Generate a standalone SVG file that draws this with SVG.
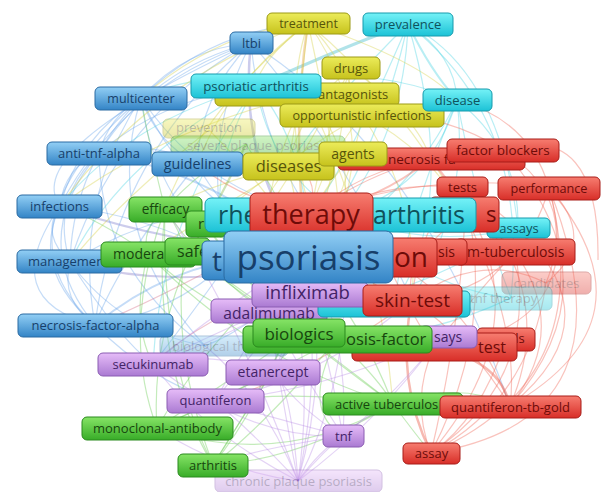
<svg xmlns="http://www.w3.org/2000/svg" width="601" height="492" viewBox="0 0 601 492">
<defs>
<linearGradient id="gB" x1="0" y1="0" x2="0" y2="1"><stop offset="0" stop-color="#92cff5"/><stop offset="1" stop-color="#3384c6"/></linearGradient>
<linearGradient id="gC" x1="0" y1="0" x2="0" y2="1"><stop offset="0" stop-color="#74f2f7"/><stop offset="1" stop-color="#1cc2d6"/></linearGradient>
<linearGradient id="gY" x1="0" y1="0" x2="0" y2="1"><stop offset="0" stop-color="#ecec5a"/><stop offset="1" stop-color="#c6c21c"/></linearGradient>
<linearGradient id="gR" x1="0" y1="0" x2="0" y2="1"><stop offset="0" stop-color="#f77d70"/><stop offset="1" stop-color="#d82e28"/></linearGradient>
<linearGradient id="gG" x1="0" y1="0" x2="0" y2="1"><stop offset="0" stop-color="#86e466"/><stop offset="1" stop-color="#38ac28"/></linearGradient>
<linearGradient id="gP" x1="0" y1="0" x2="0" y2="1"><stop offset="0" stop-color="#e6bcf8"/><stop offset="1" stop-color="#aa7ad2"/></linearGradient>
</defs>
<style>
text{font-family:"Open Sans","Noto Sans","DejaVu Sans",sans-serif;text-anchor:middle}
.s{text-anchor:start}
rect{stroke-width:1}
.b rect{fill:url(#gB);stroke:#2a6aa2}.b text{fill:#173f6a}
.c rect{fill:url(#gC);stroke:#169aac}.c text{fill:#0f525c}
.y rect{fill:url(#gY);stroke:#9c9a16}.y text{fill:#57550a}
.r rect{fill:url(#gR);stroke:#a81d18}.r text{fill:#6e0b08}
.g rect{fill:url(#gG);stroke:#2a8a1e}.g text{fill:#17460e}
.p rect{fill:url(#gP);stroke:#8a5cb2}.p text{fill:#432366}
.f{opacity:0.38}
#edges path{fill:none;stroke-width:1.2;stroke-opacity:0.4}
.eb{stroke:#6fa8ea}.ec{stroke:#4fd4e4}.ey{stroke:#d8d24c}.er{stroke:#f06a5a}.eg{stroke:#6ccc56}.ep{stroke:#bc90e6}
</style>
<rect width="601" height="492" fill="#ffffff"/>
<g id="edges">
<g class="eb">
<path d="M141 98 Q193 211 308 257"/><path d="M141 98 Q185 48 251 43"/><path d="M141 98 Q156 142 197 164"/><path d="M141 98 Q109 117 99 153"/><path d="M141 98 Q79 136 60 206"/><path d="M141 98 Q73 166 70 262"/><path d="M141 98 Q73 202 95 325"/><path d="M141 98 Q203 190 311 214"/><path d="M141 98 Q153 197 230 260"/>
<path d="M251 43 Q237 161 308 257" style="stroke:#7f80d0;stroke-width:2.5"/><path d="M251 43 Q197 147 230 260"/><path d="M251 43 Q123 86 60 206"/><path d="M251 43 Q153 68 99 153"/><path d="M251 43 Q117 116 70 262"/><path d="M251 43 Q117 153 95 325"/>
<path d="M99 153 Q219 174 308 257" style="stroke-width:2"/><path d="M60 206 Q150 240 308 257" style="stroke:#7f80d0;stroke-width:2"/><path d="M70 262 Q190 295 308 257" style="stroke:#8a7cc8;stroke-width:2"/><path d="M95 325 Q188 248 308 257" style="stroke-width:1.8"/><path d="M197 164 Q234 233 308 257"/><path d="M197 164 Q150 139 99 153"/><path d="M60 206 Q64 168 99 153"/><path d="M60 206 Q40 234 70 262"/><path d="M70 262 Q60 300 95 325"/><path d="M60 206 Q30 270 95 325"/><path d="M141 98 Q100 230 205 346"/><path d="M99 153 Q100 270 205 346"/><path d="M251 43 Q200 95 197 164"/><path d="M230 260 Q150 215 60 206"/><path d="M230 260 Q170 315 95 325"/><path d="M70 262 Q190 190 311 214"/><path d="M99 153 Q25 240 95 325"/><path d="M99 153 Q50 200 70 262"/><path d="M205 346 Q270 320 308 257"/><path d="M205 346 Q120 330 70 262"/><path d="M141 98 Q-10 230 95 325"/><path d="M60 206 Q-5 300 95 325"/><path d="M251 43 Q20 150 60 206"/><path d="M95 325 Q150 380 215 401"/><path d="M70 262 Q120 340 153 364"/><path d="M251 43 Q330 130 412 300"/><path d="M251 43 Q420 150 510 406"/><path d="M251 43 Q260 140 311 214"/><path d="M141 98 Q210 30 308 23"/><path d="M197 164 Q120 260 95 325"/><path d="M230 260 Q180 330 153 364"/><path d="M99 153 Q160 100 256 86"/>
</g>
<g class="ec">
<path d="M408 24 Q455 55 457 100"/><path d="M408 24 Q405 130 340 215"/><path d="M408 24 Q380 150 308 257"/><path d="M408 24 Q360 40 256 86" style="stroke:#3cb8c8;stroke-width:3"/><path d="M408 24 Q500 70 518 228"/><path d="M408 24 Q530 120 511 298"/><path d="M457 100 Q430 190 340 215"/><path d="M457 100 Q410 200 308 257"/><path d="M457 100 Q520 150 518 228"/><path d="M457 100 Q480 220 511 298"/><path d="M256 86 Q270 170 340 215"/><path d="M256 86 Q310 150 308 257"/><path d="M256 86 Q360 60 457 100"/><path d="M256 86 Q200 70 141 98"/><path d="M256 86 Q130 120 60 206"/><path d="M256 86 Q120 160 70 262"/><path d="M340 215 Q430 250 518 228"/><path d="M340 215 Q430 290 511 298"/><path d="M457 100 Q470 200 412 300"/><path d="M518 228 Q400 310 269 311"/><path d="M511 298 Q400 350 299 333"/><path d="M408 24 Q330 100 288 166"/><path d="M256 86 Q160 220 153 364"/><path d="M408 24 Q460 200 395 303"/><path d="M408 24 Q430 70 457 100" style="stroke-width:2"/><path d="M457 100 Q400 240 395 303"/><path d="M408 24 Q350 160 311 214"/><path d="M256 86 Q200 180 230 260"/>
</g>
<g class="ey">
<path d="M308 23 Q290 140 308 257" style="stroke:#e0a040;stroke-width:2.5"/><path d="M308 23 Q280 110 311 214"/><path d="M308 23 Q300 100 288 166"/><path d="M308 23 Q350 80 353 154"/><path d="M308 23 Q345 60 362 115"/><path d="M308 23 Q230 80 197 164"/><path d="M308 23 Q150 80 60 206"/><path d="M308 23 Q330 120 340 215"/><path d="M308 23 Q200 110 165 209"/><path d="M351 68 Q300 110 288 166"/><path d="M351 68 Q340 160 308 257"/><path d="M351 68 Q320 150 311 214"/><path d="M307 94 Q360 160 340 215"/><path d="M307 94 Q160 130 60 206"/><path d="M362 115 Q320 170 311 214"/><path d="M362 115 Q350 190 308 257"/><path d="M362 115 Q430 150 465 214"/><path d="M288 166 Q300 220 308 257"/><path d="M288 166 Q250 220 230 260"/><path d="M353 154 Q330 180 311 214"/><path d="M353 154 Q350 190 340 215"/><path d="M209 130 Q270 190 308 257"/><path d="M209 130 Q120 200 70 262"/><path d="M288 166 Q220 180 165 209"/><path d="M288 166 Q200 220 148 254"/><path d="M308 23 Q220 30 141 98"/><path d="M307 94 Q380 250 393 404"/><path d="M362 115 Q420 200 412 300"/><path d="M308 23 Q420 60 457 100"/><path d="M308 23 Q400 100 465 214"/><path d="M351 68 Q420 120 430 159"/><path d="M307 94 Q250 200 269 311"/><path d="M308 23 Q260 60 256 86"/><path d="M351 68 Q280 200 230 260"/><path d="M362 115 Q250 180 185 251"/>
</g>
<g class="er">
<path d="M503 150 Q620 280 510 406"/><path d="M549 188 Q600 380 431 453"/><path d="M549 188 Q520 290 412 300"/><path d="M462 187 Q500 320 431 453"/><path d="M465 214 Q460 330 431 453"/><path d="M412 300 Q395 380 431 453" style="stroke:#e8503c;stroke-width:2.5"/><path d="M434 347 Q410 400 431 453"/><path d="M510 406 Q500 360 434 347" style="stroke:#e8503c;stroke-width:2.5"/><path d="M510 406 Q470 340 412 300"/><path d="M384 257 Q470 300 510 406"/><path d="M311 214 Q400 150 503 150"/><path d="M311 214 Q360 170 430 159"/><path d="M311 214 Q390 180 462 187"/><path d="M311 214 Q430 170 549 188"/><path d="M311 214 Q360 290 412 300"/><path d="M311 214 Q420 270 515 252"/><path d="M503 150 Q580 200 546 283"/><path d="M549 188 Q600 240 546 283"/><path d="M515 252 Q540 380 431 453"/><path d="M515 252 Q570 330 510 406"/><path d="M462 187 Q560 290 510 406"/><path d="M546 283 Q530 400 431 453"/><path d="M506 340 Q480 420 431 453"/><path d="M311 214 Q180 290 95 325" style="stroke:#d8708a"/><path d="M311 214 Q240 200 197 164"/><path d="M462 187 Q640 300 510 406"/><path d="M549 188 Q590 330 434 347"/><path d="M430 159 Q560 300 431 453"/><path d="M503 150 Q440 110 362 115"/><path d="M549 188 Q530 120 457 100"/><path d="M412 300 Q300 380 215 401"/><path d="M311 214 Q200 270 148 254"/><path d="M384 257 Q300 250 230 260"/><path d="M430 159 Q500 250 515 252"/><path d="M465 214 Q520 330 510 406"/><path d="M412 300 Q480 250 546 283"/><path d="M384 257 Q220 300 153 364" style="stroke:#d8708a"/><path d="M549 188 Q660 320 510 406"/><path d="M549 188 Q640 420 431 453"/><path d="M503 150 Q600 120 598 260"/><path d="M430 159 Q380 200 311 214" style="stroke-width:2"/><path d="M311 214 Q320 170 288 166"/><path d="M465 214 Q400 260 412 300"/><path d="M434 347 Q470 300 515 252"/><path d="M412 300 Q420 220 462 187"/><path d="M384 257 Q420 330 434 347"/>
</g>
<g class="eg">
<path d="M165 209 Q230 250 308 257"/><path d="M165 209 Q140 230 148 254"/><path d="M165 209 Q180 230 185 251"/><path d="M165 209 Q220 290 299 333"/><path d="M165 209 Q160 360 213 465"/><path d="M165 209 Q120 330 157 428"/><path d="M148 254 Q220 320 299 333"/><path d="M148 254 Q130 320 153 364"/><path d="M185 251 Q250 300 299 333"/><path d="M185 251 Q300 330 393 404"/><path d="M299 333 Q360 380 393 404"/><path d="M299 333 Q240 420 213 465"/><path d="M299 333 Q200 400 157 428"/><path d="M337 339 Q380 380 393 404"/><path d="M337 339 Q270 420 213 465"/><path d="M337 339 Q220 400 157 428"/><path d="M157 428 Q220 320 308 257"/><path d="M157 428 Q220 400 273 372"/><path d="M213 465 Q280 380 308 257"/><path d="M213 465 Q300 330 340 215"/><path d="M393 404 Q360 320 308 257"/><path d="M393 404 Q300 390 215 401"/><path d="M246 144 Q280 200 308 257"/><path d="M246 144 Q200 170 165 209"/><path d="M165 209 Q150 150 141 98"/><path d="M148 254 Q100 220 60 206"/><path d="M205 224 Q260 300 299 333" style="stroke-width:2"/><path d="M205 224 Q150 330 157 428"/><path d="M393 404 Q300 460 213 465"/><path d="M157 428 Q280 470 393 404"/><path d="M185 251 Q170 350 213 465"/><path d="M337 339 Q300 410 343 436"/><path d="M393 404 Q460 380 510 406"/><path d="M393 404 Q420 440 431 453"/><path d="M205 224 Q230 180 246 144" style="stroke-width:2.2;stroke:#8ab84a"/><path d="M148 254 Q250 360 393 404"/><path d="M213 465 Q150 360 165 209"/>
</g>
<g class="ep">
<path d="M298 481 Q290 380 273 372"/><path d="M298 481 Q320 380 308 294"/><path d="M298 481 Q280 390 269 311"/><path d="M298 481 Q330 370 308 257"/><path d="M298 481 Q200 430 153 364"/><path d="M298 481 Q250 430 215 401"/><path d="M298 481 Q320 450 343 436"/><path d="M298 481 Q310 400 299 333"/><path d="M298 481 Q220 470 157 428"/><path d="M298 481 Q230 300 165 209"/><path d="M298 481 Q380 420 440 337"/><path d="M343 436 Q330 360 308 294"/><path d="M343 436 Q300 370 269 311"/><path d="M343 436 Q300 410 273 372"/><path d="M343 436 Q350 340 308 257"/><path d="M343 436 Q400 390 440 337"/><path d="M153 364 Q230 300 308 257"/><path d="M153 364 Q220 330 308 294"/><path d="M153 364 Q210 350 273 372"/><path d="M215 401 Q260 320 308 257"/><path d="M215 401 Q320 380 412 300"/><path d="M215 401 Q260 340 308 294"/><path d="M215 401 Q280 420 343 436"/><path d="M273 372 Q300 320 308 257"/><path d="M273 372 Q300 330 308 294"/><path d="M440 337 Q330 390 215 401"/><path d="M269 311 Q220 340 153 364"/><path d="M153 364 Q250 440 343 436"/><path d="M298 481 Q350 420 393 404"/><path d="M298 481 Q360 360 340 215"/><path d="M343 436 Q250 450 213 465"/><path d="M298 481 Q260 390 205 346"/>
</g>
</g>
<g id="n-prevention" class="y f"><rect x="163" y="119" width="92" height="19" rx="5"/><text x="209" y="132" font-size="13">prevention</text></g>
<g id="n-severe-plaque-psoriasis" class="g f"><rect x="171" y="136" width="174" height="19" rx="5"/><text x="258" y="150" font-size="13">severe plaque psoriasis</text></g>
<g id="n-biological-therapy" class="b f"><rect x="160" y="336" width="128" height="20" rx="5"/><text class="s" x="172" y="351" font-size="13">biological th</text></g>
<g id="n-candidates" class="r f"><rect x="502" y="272" width="89" height="22" rx="5"/><text x="546.5" y="288" font-size="13">candidates</text></g>
<g id="n-tnf-therapy" class="c f"><rect x="440" y="287" width="112" height="23" rx="5"/><text class="s" x="470" y="303" font-size="13">tnf therapy</text></g>
<g id="n-chronic-plaque-psoriasis" class="p f"><rect x="215" y="470" width="167" height="22" rx="5"/><text x="298.5" y="486" font-size="13">chronic plaque psoriasis</text></g>

<g id="n-treatment" class="y"><rect x="267" y="13" width="83" height="21" rx="5"/><text x="308.5" y="28" font-size="12.5">treatment</text></g>
<g id="n-prevalence" class="c"><rect x="363" y="13" width="90" height="23" rx="5"/><text x="408" y="29" font-size="13">prevalence</text></g>
<g id="n-ltbi" class="b"><rect x="230" y="32" width="43" height="22" rx="5"/><text x="251.5" y="48" font-size="13">ltbi</text></g>
<g id="n-drugs" class="y"><rect x="322" y="57" width="58" height="22" rx="5"/><text x="351" y="73" font-size="13">drugs</text></g>
<g id="n-antagonists" class="y"><rect x="215" y="83" width="184" height="23" rx="5"/><text class="s" x="318" y="99" font-size="13">antagonists</text></g>
<g id="n-psoriatic-arthritis" class="c"><rect x="191" y="74" width="130" height="24" rx="5"/><text x="256" y="91" font-size="13.3">psoriatic arthritis</text></g>
<g id="n-opportunistic-infections" class="y"><rect x="280" y="104" width="164" height="23" rx="5"/><text x="362" y="120" font-size="12.6">opportunistic infections</text></g>
<g id="n-disease" class="c"><rect x="423" y="89" width="69" height="22" rx="5"/><text x="457.5" y="105" font-size="13">disease</text></g>
<g id="n-multicenter" class="b"><rect x="95" y="87" width="92" height="23" rx="5"/><text x="141" y="103" font-size="12.5">multicenter</text></g>
<g id="n-anti-tnf-alpha" class="b"><rect x="47" y="142" width="104" height="23" rx="5"/><text x="99" y="158" font-size="13">anti-tnf-alpha</text></g>
<g id="n-guidelines" class="b"><rect x="152" y="152" width="91" height="24" rx="5"/><text x="197.5" y="169" font-size="14.3">guidelines</text></g>
<g id="n-diseases" class="y"><rect x="243" y="153" width="91" height="27" rx="5"/><text x="288.5" y="172" font-size="16.5">diseases</text></g>
<g id="n-necrosis-factor" class="r"><rect x="338" y="148" width="187" height="22" rx="5"/><text class="s" x="388" y="164" font-size="13.5">necrosis fa</text></g>
<g id="n-agents" class="y"><rect x="319" y="142" width="68" height="24" rx="5"/><text x="353" y="159" font-size="14">agents</text></g>
<g id="n-factor-blockers" class="r"><rect x="447" y="139" width="112" height="23" rx="5"/><text x="503" y="155" font-size="13.5">factor blockers</text></g>
<g id="n-tests" class="r"><rect x="437" y="177" width="51" height="20" rx="5"/><text x="462.5" y="192" font-size="13">tests</text></g>
<g id="n-performance" class="r"><rect x="498" y="177" width="102" height="23" rx="5"/><text x="549" y="193" font-size="12.7">performance</text></g>
<g id="n-assays-cyan" class="c"><rect x="487" y="218" width="63" height="20" rx="5"/><text x="519" y="233" font-size="13">assays</text></g>
<g id="n-tuberculosis-red" class="r"><rect x="430" y="197" width="69" height="35" rx="5"/><text class="s" x="486" y="222" font-size="22">s</text></g>
<g id="n-m-tuberculosis" class="r"><rect x="455" y="239" width="120" height="26" rx="5"/><text class="s" x="467" y="257" font-size="14">m-tuberculosis</text></g>
<g id="n-sis" class="r"><rect x="410" y="239" width="57" height="26" rx="5"/><text class="s" x="438" y="257" font-size="14">sis</text></g>
<g id="n-on" class="r"><rect x="330" y="238" width="107" height="39" rx="5"/><text class="s" x="394" y="267" font-size="28">on</text></g>
<g id="n-infections" class="b"><rect x="17" y="195" width="85" height="23" rx="5"/><text x="59.5" y="211" font-size="13">infections</text></g>
<g id="n-management" class="b"><rect x="17" y="250" width="105" height="23" rx="5"/><text class="s" x="28" y="266" font-size="13">managemen</text></g>
<g id="n-moderate" class="g"><rect x="101" y="242" width="95" height="25" rx="5"/><text class="s" x="113" y="259" font-size="14">modera</text></g>
<g id="n-efficacy" class="g"><rect x="129" y="197" width="73" height="25" rx="5"/><text x="165.5" y="214" font-size="13.6">efficacy</text></g>
<g id="n-r" class="g"><rect x="186" y="211" width="40" height="26" rx="5"/><text class="s" x="198" y="229" font-size="15">r</text></g>
<g id="n-safety" class="g"><rect x="165" y="238" width="45" height="27" rx="5"/><text class="s" x="177" y="257" font-size="16">safe</text></g>
<g id="n-t" class="b"><rect x="202" y="241" width="60" height="39" rx="5"/><text class="s" x="212" y="271" font-size="28">t</text></g>
<g id="n-rheumatoid-arthritis" class="c"><rect x="205" y="198" width="271" height="34" rx="6"/><text class="s" x="218" y="224" font-size="25">rhe</text><text class="s" x="373" y="224" font-size="25">arthritis</text></g>
<g id="n-therapy" class="r"><rect x="250" y="193" width="123" height="43" rx="6"/><text x="311" y="224" font-size="27">therapy</text></g>
<g id="n-adalimumab" class="p"><rect x="211" y="299" width="116" height="24" rx="5"/><text x="269" y="318.5" font-size="15.6">adalimumab</text></g>
<g id="n-cyan-hidden" class="c"><rect x="318" y="291" width="152" height="26" rx="5"/></g>
<g id="n-infliximab" class="p"><rect x="252" y="282" width="116" height="25" rx="5"/><text x="307.5" y="299" font-size="18.5">infliximab</text></g>
<g id="n-psoriasis" class="b"><rect x="224" y="231" width="169" height="52" rx="7"/><text x="308.5" y="270" font-size="35">psoriasis</text></g>
<g id="n-skin-test" class="r"><rect x="363" y="285" width="99" height="31" rx="5"/><text x="412.5" y="307" font-size="19">skin-test</text></g>
<g id="n-lls" class="r"><rect x="477" y="328" width="58" height="23" rx="5"/><text class="s" x="512" y="343" font-size="13">lls</text></g>
<g id="n-test" class="r"><rect x="352" y="333" width="165" height="28" rx="5"/><text class="s" x="478" y="353" font-size="16">test</text></g>
<g id="n-says" class="p"><rect x="420" y="326" width="57" height="22" rx="5"/><text class="s" x="434" y="342" font-size="14">says</text></g>
<g id="n-necrosis-factor-green" class="g"><rect x="243" y="326" width="189" height="27" rx="5"/><text class="s" x="346" y="345" font-size="16.5">osis-factor</text></g>
<g id="n-biologics" class="g"><rect x="253" y="319" width="92" height="28" rx="5"/><text x="299" y="340" font-size="17">biologics</text></g>
<g id="n-necrosis-factor-alpha" class="b"><rect x="18" y="314" width="155" height="23" rx="5"/><text x="95.5" y="330" font-size="13">necrosis-factor-alpha</text></g>
<g id="n-secukinumab" class="p"><rect x="98" y="353" width="110" height="23" rx="5"/><text x="153" y="369" font-size="13">secukinumab</text></g>
<g id="n-etanercept" class="p"><rect x="226" y="360" width="94" height="25" rx="5"/><text x="273" y="377" font-size="14">etanercept</text></g>
<g id="n-quantiferon" class="p"><rect x="167" y="389" width="97" height="24" rx="5"/><text x="215.5" y="405" font-size="13">quantiferon</text></g>
<g id="n-monoclonal-antibody" class="g"><rect x="82" y="417" width="151" height="23" rx="5"/><text x="157.5" y="433" font-size="13">monoclonal-antibody</text></g>
<g id="n-arthritis" class="g"><rect x="178" y="454" width="70" height="23" rx="5"/><text x="213" y="470" font-size="13">arthritis</text></g>
<g id="n-active-tuberculosis" class="g"><rect x="323" y="393" width="140" height="22" rx="5"/><text class="s" x="335" y="409" font-size="13">active tuberculos</text></g>
<g id="n-quantiferon-tb-gold" class="r"><rect x="440" y="396" width="141" height="22" rx="5"/><text x="510.5" y="412" font-size="13">quantiferon-tb-gold</text></g>
<g id="n-tnf" class="p"><rect x="323" y="425" width="41" height="22" rx="5"/><text x="343.5" y="441" font-size="13">tnf</text></g>
<g id="n-assay" class="r"><rect x="403" y="443" width="57" height="21" rx="5"/><text x="431.5" y="458" font-size="13">assay</text></g>
</svg>
